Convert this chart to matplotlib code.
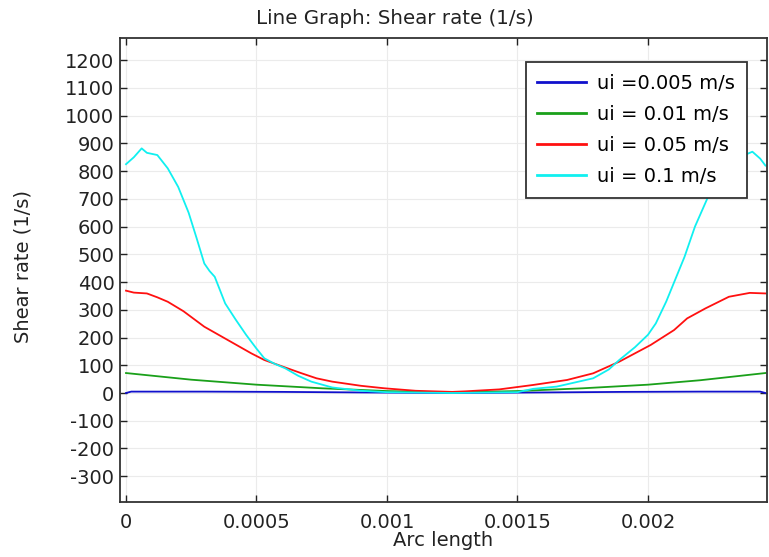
import matplotlib
matplotlib.use("Agg")
import matplotlib.pyplot as plt

# ---- data ----
x_cyan = [0, 0.00003, 0.00006, 0.00008, 0.00012, 0.00016, 0.0002, 0.00024, 0.00027, 0.0003,
          0.00032, 0.00034, 0.00038, 0.00042, 0.00046, 0.0005, 0.00053, 0.00057, 0.00061,
          0.00066, 0.00071, 0.00079, 0.0009, 0.001, 0.00125, 0.0015, 0.00156, 0.00165,
          0.00172, 0.00179, 0.00185, 0.00189, 0.00195, 0.002, 0.00203, 0.00207, 0.00214,
          0.00218, 0.00223, 0.00228, 0.00235, 0.0024, 0.00243, 0.00245]
y_cyan = [825, 850, 882, 866, 858, 810, 743, 650, 560, 467,
          440, 419, 323, 265, 210, 160, 125, 105, 89,
          62, 41, 20, 8, 3, 0, 3, 15, 23,
          38, 53, 85, 119, 165, 210, 251, 330, 491,
          600, 707, 790, 850, 870, 845, 820]

x_red = [0, 0.00003, 0.00008, 0.00012, 0.00016, 0.00022, 0.0003, 0.00039, 0.00048, 0.00053,
         0.00061, 0.00067, 0.00073, 0.00079, 0.0009, 0.00099, 0.00111, 0.00125, 0.0013,
         0.00143, 0.00156, 0.00169, 0.00179, 0.00189, 0.00201, 0.0021, 0.00215, 0.00222,
         0.00231, 0.00239, 0.00245]
y_red = [369, 362, 359, 345, 329, 295, 239, 191, 143, 119,
         92, 72, 53, 41, 26, 17, 8, 4, 6,
         13, 29, 47, 71, 113, 173, 227, 269, 305,
         347, 361, 359]

x_green = [0, 0.00025, 0.0005, 0.00075, 0.001, 0.00125, 0.0015, 0.00175, 0.002, 0.0022, 0.00245]
y_green = [72, 48, 30, 17, 7, 2, 7, 17, 30, 46, 72]

x_blue = [0, 0.00002, 0.0003, 0.0006, 0.0009, 0.00125, 0.0016, 0.0019, 0.0022, 0.00243, 0.00245]
y_blue = [0, 5, 5, 4, 2, 0, 2, 4, 5, 5, 0]

labels = ["ui =0.005 m/s", "ui = 0.01 m/s", "ui = 0.05 m/s", "ui = 0.1 m/s"]
colors = ["#1010cc", "#1aa01a", "#ff1010", "#10f0f0"]

x_ticks = [0, 0.0005, 0.001, 0.0015, 0.002]
x_ticklabels = ["0", "0.0005", "0.001", "0.0015", "0.002"]
y_ticks = list(range(-300, 1201, 100))

plt.rcParams['font.family'] = ['DejaVu Sans']
plt.rcParams['axes.unicode_minus'] = False

fig = plt.figure(figsize=(7.69, 5.57), dpi=100)
ax = fig.add_axes([120/769, 1-502/557, (767-120)/769, (502-38)/557])

series = [(x_blue, y_blue), (x_green, y_green), (x_red, y_red), (x_cyan, y_cyan)]
for (xs, ys), lab, c in zip(series, labels, colors):
    ax.plot(xs, ys, color=c, lw=1.3, label=lab)

ax.set_xlim(-0.000023, 0.002456)
ax.set_ylim(-393, 1280)
ax.set_xticks(x_ticks)
ax.set_xticklabels(x_ticklabels)
ax.set_yticks(y_ticks)
ax.grid(True, color="#ebebeb", lw=0.8)
ax.set_axisbelow(True)
ax.tick_params(direction="in", length=5, width=1, top=True, right=True,
               labelsize=14, colors="#222222")
ax.tick_params(axis="x", pad=8)
ax.tick_params(axis="y", pad=4)
for s in ax.spines.values():
    s.set_linewidth(1.3)
    s.set_color("#333333")

ax.set_title("Line Graph: Shear rate (1/s)", fontsize=14.3, color="#222222", pad=10,
             x=(394.5-120)/647)
ax.set_xlabel("Arc length", fontsize=14, color="#222222")
ax.xaxis.set_label_coords(0.5, -0.062)
ax.set_ylabel("Shear rate (1/s)", fontsize=14, color="#222222")
ax.yaxis.set_label_coords(-0.1345, 0.5075)

leg = ax.legend(loc="upper right", bbox_to_anchor=((747-120)/647, (502-62)/464),
                borderaxespad=0, fontsize=14, frameon=True, fancybox=False,
                handlelength=2.5, handletextpad=0.6, labelspacing=0.62,
                borderpad=0.6)
leg.get_frame().set_edgecolor("#333333")
leg.get_frame().set_linewidth(1.3)
leg.get_frame().set_alpha(1)
for h in leg.get_lines():
    h.set_linewidth(2)

fig.savefig("out.png", dpi=100)
